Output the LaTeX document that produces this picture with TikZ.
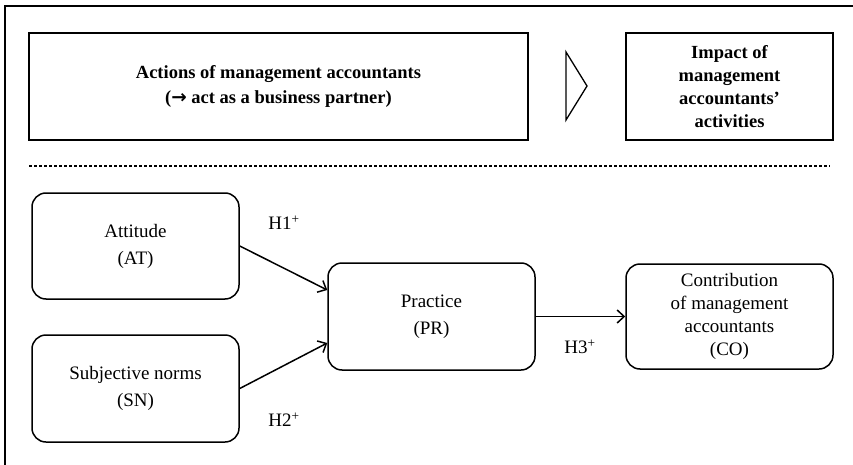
\documentclass[tikz,border=0pt]{standalone}
\usepackage{fontspec}
\setmainfont{Liberation Serif}
\newfontfamily\arrowfont{DejaVu Sans}
\usetikzlibrary{arrows.meta}
\begin{document}
\begin{tikzpicture}[x=1pt,y=-1pt,
  topbox/.style={draw, line width=1.5pt, inner sep=0pt, align=center,
    font=\bfseries\fontsize{18.5}{25}\selectfont},
  rbox/.style={draw, line width=1.5pt, rounded corners=14pt, inner sep=0pt,
    minimum width=207pt, minimum height=106pt, align=center,
    font=\fontsize{19}{27}\selectfont},
  hlabel/.style={inner sep=0pt, font=\fontsize{19}{22}\selectfont},
  arr/.style={line width=1.5pt, -{Straight Barb[length=7pt,width=13pt,line width=1.5pt]}},
]
\useasboundingbox (0,0) rectangle (853,465);
\begin{scope}
\clip (0,0) rectangle (853,465);
\draw[line width=1.3pt] (5,480) -- (5,6) -- (870,6);
\end{scope}

% top row
\node[topbox, minimum width=499pt, minimum height=107pt] (act) at (278.5,86.5)
  {Actions of management accountants\\({\arrowfont\bfseries →} act as a business partner)};
\node[topbox, minimum width=207pt, minimum height=107pt,
  font=\bfseries\fontsize{18.5}{23}\selectfont] (imp) at (729.5,86.5)
  {Impact of\\management\\accountants’\\activities};
\draw[line width=1.3pt] (566,52) -- (587,86) -- (566,120) -- cycle;

% dashed separator
\draw[line width=1.1pt, dash pattern=on 3pt off 2pt] (29,166) -- (830,166);

% model
\node[rbox] (at) at (135.5,246) {Attitude\\(AT)};
\node[rbox, minimum height=107pt] (sn) at (135.5,388.5) {Subjective norms\\(SN)};
\node[rbox, minimum height=107pt] (pr) at (431.5,316.5) {Practice\\(PR)};
\node[rbox, minimum height=105pt, font=\fontsize{19}{23}\selectfont] (co) at (729.5,316.5)
  {Contribution\\of management\\accountants\\(CO)};

\draw[arr] (at.east) -- ([yshift=26.5pt]pr.west);
\draw[arr] (sn.east) -- ([yshift=-26.5pt]pr.west);
\draw[arr] (pr.east) -- (co.west);

\node[hlabel] (h1) at (284,223) {H1\textsuperscript{+}};
\node[hlabel] (h2) at (284,420) {H2\textsuperscript{+}};
\node[hlabel] (h3) at (580,347) {H3\textsuperscript{+}};
\end{tikzpicture}
\end{document}
